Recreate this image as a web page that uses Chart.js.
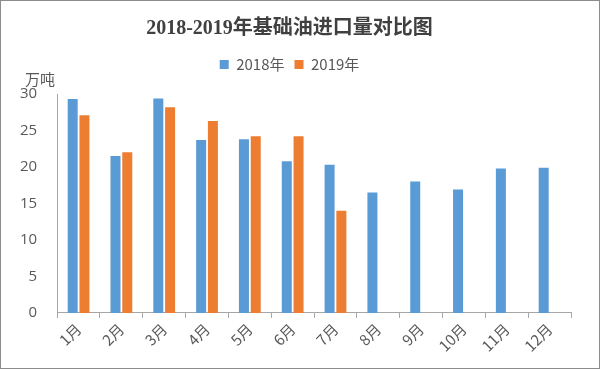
<!DOCTYPE html>
<html>
<head>
<meta charset="utf-8">
<script src="https://cdn.jsdelivr.net/npm/chart.js@4/dist/chart.umd.min.js"></script>
<style>
  html, body { margin: 0; padding: 0; background: #fff; }
  #wrap { width: 598px; height: 367px; border: 1px solid #8c8c8c; position: relative; }
</style>
</head>
<body>
<div id="wrap"><canvas id="myChart"></canvas></div>
<script>
const months = ['1月', '2月', '3月', '4月', '5月', '6月', '7月', '8月', '9月', '10月', '11月', '12月'];
const imports2018 = [29.3, 21.5, 29.4, 23.7, 23.8, 20.8, 20.3, 16.5, 18.0, 16.9, 19.8, 19.9];
const imports2019 = [27.1, 22.0, 28.2, 26.3, 24.2, 24.2, 14.0];
const yTicks = [0, 5, 10, 15, 20, 25, 30];

// draws the unit label above the y axis
const unitLabel = {
  id: 'unitLabel',
  afterDraw(chart) {
    const ctx = chart.ctx;
    ctx.save();
    ctx.font = '15px "Noto Sans CJK SC", sans-serif';
    ctx.fillStyle = '#595959';
    ctx.textAlign = 'left';
    ctx.textBaseline = 'middle';
    ctx.fillText('万吨', 24, chart.chartArea.top - 15);
    ctx.restore();
  }
};

// extra room between the legend and the plot
const legendGap = {
  id: 'legendGap',
  beforeInit(chart) {
    const fit = chart.legend.fit;
    chart.legend.fit = function () {
      fit.bind(chart.legend)();
      this.height += 12;
    };
  }
};

const data = {
  labels: months,
  datasets: [{
    label: '2018年',
    backgroundColor: '#5B9BD5',
    data: imports2018,
  }, {
    label: '2019年',
    backgroundColor: '#ED7D31',
    data: imports2019,
  }]
};

const config = {
  type: 'bar',
  data: data,
  plugins: [unitLabel, legendGap],
  options: {
    responsive: true,
    maintainAspectRatio: false,
    animation: false,
    layout: { padding: { left: 7, right: 28, top: 10, bottom: 11 } },
    datasets: {
      bar: { categoryPercentage: 0.55, barPercentage: 0.85 }
    },
    scales: {
      x: {
        grid: { drawOnChartArea: false, drawTicks: true, tickLength: 5, color: '#a6a6a6' },
        border: { color: '#a6a6a6' },
        ticks: {
          minRotation: 45, maxRotation: 45,
          color: '#595959',
          font: { family: '"Noto Sans CJK SC", sans-serif', size: 15 },
          padding: 2
        }
      },
      y: {
        min: 0, max: 30,
        afterBuildTicks(axis) { axis.ticks = yTicks.map(v => ({ value: v })); },
        grid: { display: false },
        border: { color: '#a6a6a6' },
        ticks: {
          color: '#595959',
          font: { family: '"Open Sans", sans-serif', size: 15 },
          padding: 12
        }
      }
    },
    plugins: {
      title: {
        display: true,
        text: '2018-2019年基础油进口量对比图',
        color: '#404040',
        font: { family: '"Liberation Serif", "Noto Sans CJK SC", serif', size: 20, weight: 'bold' },
        padding: { top: 6, bottom: 6 }
      },
      legend: {
        position: 'top',
        labels: {
          boxWidth: 9, boxHeight: 9,
          color: '#595959',
          font: { family: '"Noto Sans CJK SC", sans-serif', size: 15 },
          padding: 10
        }
      },
      tooltip: { enabled: false }
    }
  },
};

const myChart = new Chart(
  document.getElementById('myChart'),
  config
);
</script>
</body>
</html>
